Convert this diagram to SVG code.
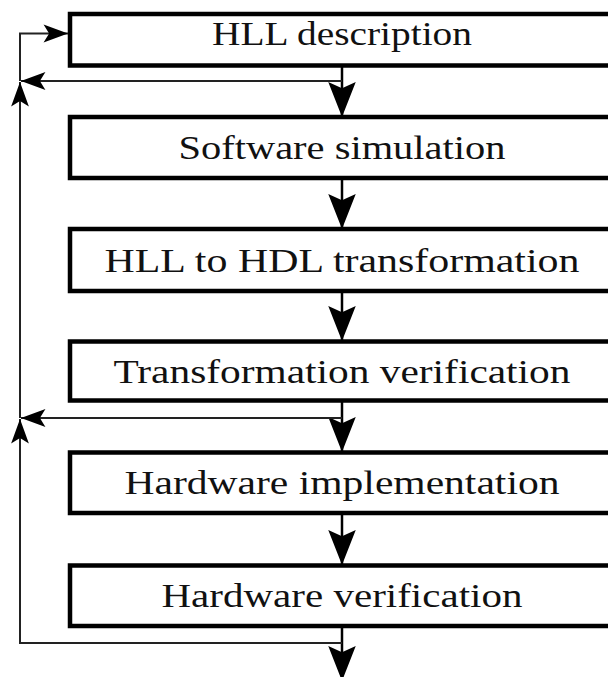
<svg xmlns="http://www.w3.org/2000/svg" width="608" height="677" viewBox="0 0 608 677">
<style>
.box{fill:#fff;stroke:#000;stroke-width:4.5}
.lbl{font-family:"Liberation Serif","Times New Roman",serif;font-size:34px;fill:#111;text-anchor:middle}
.down{fill:none;stroke:#000;stroke-width:2.5;marker-end:url(#big)}
.fb{fill:none;stroke:#222;stroke-width:2}
.fba{fill:none;stroke:#222;stroke-width:2;marker-end:url(#small)}
</style>
<defs>
<marker id="big" markerUnits="userSpaceOnUse" markerWidth="40" markerHeight="30" viewBox="-30 -12 32 24" refX="0" refY="0" orient="auto">
<path d="M0,0 L-28,-11 L-23,0 L-28,11 Z" fill="#000"/>
</marker>
<marker id="small" markerUnits="userSpaceOnUse" markerWidth="30" markerHeight="20" viewBox="-23 -9 24 18" refX="0" refY="0" orient="auto">
<path d="M0,0 L-22,-8 L-17,0 L-22,8 Z" fill="#000"/>
</marker>
</defs>
<g id="n1"><rect class="box" x="70" y="14" width="544" height="51.5"/><text class="lbl" x="342" y="44.5" textLength="260" lengthAdjust="spacingAndGlyphs">HLL description</text></g>
<g id="n2"><rect class="box" x="70" y="117" width="544" height="61"/><text class="lbl" x="342" y="159" textLength="327" lengthAdjust="spacingAndGlyphs">Software simulation</text></g>
<g id="n3"><rect class="box" x="70" y="229" width="544" height="62"/><text class="lbl" x="342" y="271.5" textLength="475" lengthAdjust="spacingAndGlyphs">HLL to HDL transformation</text></g>
<g id="n4"><rect class="box" x="70" y="341.5" width="544" height="59"/><text class="lbl" x="342" y="382.5" textLength="457" lengthAdjust="spacingAndGlyphs">Transformation verification</text></g>
<g id="n5"><rect class="box" x="70" y="452.5" width="544" height="60.5"/><text class="lbl" x="342" y="494" textLength="435" lengthAdjust="spacingAndGlyphs">Hardware implementation</text></g>
<g id="n6"><rect class="box" x="70" y="565.5" width="544" height="60.5"/><text class="lbl" x="342" y="607" textLength="361" lengthAdjust="spacingAndGlyphs">Hardware verification</text></g>
<g id="connectors">
<path class="down" d="M342,67 L342,117"/>
<path class="down" d="M342,180 L342,229"/>
<path class="down" d="M342,293 L342,341"/>
<path class="down" d="M342,402 L342,452"/>
<path class="down" d="M342,515 L342,565"/>
<path class="down" d="M342,628 L342,681"/>
<path class="fba" d="M342,81 L21,81"/>
<path class="fba" d="M342,418 L21,418"/>
<path class="fba" d="M342,643 L20,643 L20,419"/>
<path class="fba" d="M20,418 L20,82"/>
<path class="fba" d="M20,81 L20,33.5 L68,33.5"/>
</g>
</svg>
